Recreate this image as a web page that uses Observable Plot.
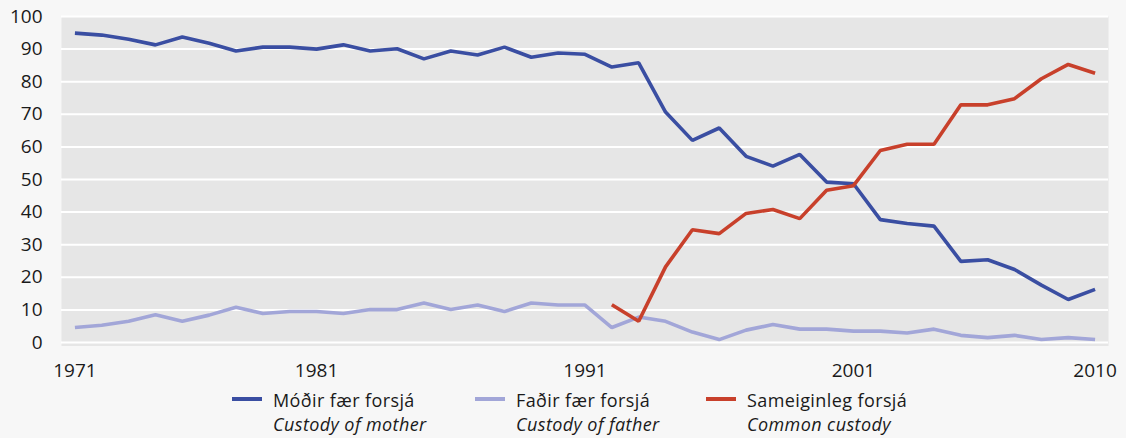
<!DOCTYPE html>
<html>
<head>
<meta charset="utf-8">
<script src="https://cdn.jsdelivr.net/npm/d3@7"></script>
<script src="https://cdn.jsdelivr.net/npm/@observablehq/plot@0.6"></script>
<style>
  html, body { margin: 0; padding: 0; background: #f7f7f7; }
  body { width: 1126px; height: 438px; overflow: hidden; font-family: "Open Sans", sans-serif; color: #1a1a1a; }
  #chart svg { display: block; }
  #legend { position: relative; width: 1126px; height: 53px; }
  .item { position: absolute; top: 0; }
  .sw { position: absolute; top: 12px; width: 30px; height: 4px; }
  .txt { position: absolute; top: 2.8px; left: 41px; font-size: 18px; line-height: 24.6px; letter-spacing: 0.4px; white-space: nowrap; }
  .txt i { font-style: italic; }
</style>
</head>
<body>
<div id="chart"></div>
<div id="legend"></div>
<script>
// Categories (one year is not present between 1971 and 1981 in the source axis)
const years = [1971,1972,1973,1974,1975,1976,1977,1978,1979,1981,
               1982,1983,1984,1985,1986,1987,1988,1989,1990,1991,
               1992,1993,1994,1995,1996,1997,1998,1999,2000,2001,
               2002,2003,2004,2005,2006,2007,2008,2009,2010];
const xTickLabels = [1971, 1981, 1991, 2001, 2010];
const yTicks = [0,10,20,30,40,50,60,70,80,90,100];

const seriesNames = ["Móðir fær forsjá", "Faðir fær forsjá", "Sameiginleg forsjá"];
const seriesNamesEn = ["Custody of mother", "Custody of father", "Common custody"];
const seriesColors = ["#3a4ea2", "#a2a6d8", "#c8402b"];

const mother = [94.9,94.3,93.0,91.3,93.7,91.8,89.4,90.6,90.6,90.0,
                91.3,89.4,90.1,87.0,89.4,88.2,90.6,87.5,88.8,88.4,
                84.5,85.8,70.7,62.0,65.8,57.1,54.1,57.7,49.2,48.7,
                37.7,36.5,35.7,24.9,25.4,22.4,17.6,13.2,16.3];
const father = [4.6,5.3,6.5,8.5,6.5,8.4,10.8,8.9,9.5,9.5,
                8.9,10.1,10.1,12.1,10.1,11.5,9.5,12.1,11.5,11.5,
                4.6,7.8,6.5,3.2,0.9,3.8,5.5,4.1,4.1,3.5,
                3.5,2.9,4.1,2.2,1.5,2.2,0.9,1.5,0.9];
const common = [null,null,null,null,null,null,null,null,null,null,
                null,null,null,null,null,null,null,null,null,null,
                11.6,6.5,23.2,34.6,33.4,39.6,40.8,38.0,46.7,48.1,
                58.9,60.8,60.8,72.9,72.9,74.8,80.9,85.3,82.6];

const seriesValues = [mother, father, common];
const rows = [];
seriesValues.forEach((vals, s) => {
  vals.forEach((v, i) => {
    if (v != null) rows.push({year: String(years[i]), value: v, series: seriesNames[s]});
  });
});

const chart = Plot.plot({
  width: 1126,
  height: 385,
  marginLeft: 61,
  marginRight: 18,
  marginTop: 16,
  marginBottom: 39.5,
  style: {background: "#f7f7f7", fontFamily: "'Open Sans', sans-serif", fontSize: "19px", color: "#1a1a1a"},
  x: {type: "point", domain: years.map(String), padding: 0.5, label: null},
  y: {domain: [-1.07, 100], label: null},
  color: {domain: seriesNames, range: seriesColors},
  marks: [
    Plot.frame({fill: "#e6e6e6", stroke: null}),
    Plot.ruleY(yTicks, {stroke: "white", strokeWidth: 2}),
    Plot.axisY({ticks: yTicks, tickSize: 0, tickPadding: 19, label: null, fill: "#1a1a1a"}),
    Plot.axisX({ticks: xTickLabels.map(String), tickSize: 0, tickPadding: 17, label: null, fill: "#1a1a1a"}),
    Plot.line(rows, {x: "year", y: "value", z: "series", stroke: "series", strokeWidth: 3.6, strokeLinejoin: "miter", strokeLinecap: "butt"})
  ]
});
document.getElementById("chart").appendChild(chart);

const legendLefts = [232, 475, 706];
const legend = document.getElementById("legend");
seriesNames.forEach((name, i) => {
  const it = document.createElement("div");
  it.className = "item";
  it.style.left = legendLefts[i] + "px";
  it.innerHTML = `<div class="sw" style="background:${seriesColors[i]}"></div>` +
    `<div class="txt">${name}<br><i>${seriesNamesEn[i]}</i></div>`;
  legend.appendChild(it);
});
</script>
</body>
</html>
